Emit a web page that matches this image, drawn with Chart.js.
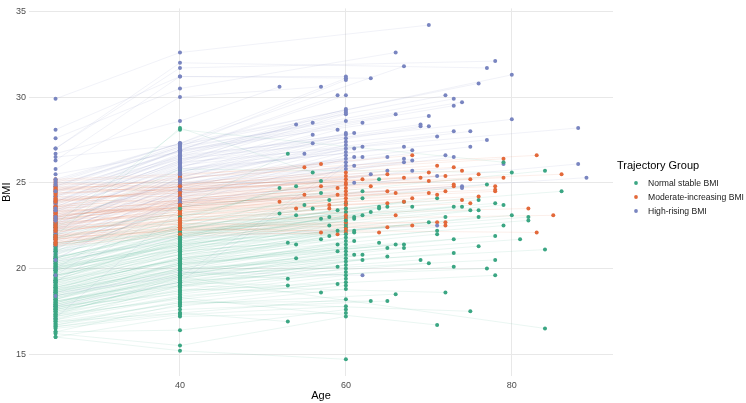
<!DOCTYPE html>
<html><head><meta charset="utf-8">
<script src="https://cdn.jsdelivr.net/npm/chart.js@4.4.1/dist/chart.umd.min.js"></script>
<style>html,body{margin:0;padding:0;background:#fff}#wrap{width:746px;height:403px;position:relative}</style>
</head><body><div id="wrap"><canvas id="c" width="746" height="403"></canvas></div>
<script>
const groupNames = ['Normal stable BMI', 'Moderate-increasing BMI', 'High-rising BMI'];
const legendTitle = 'Trajectory Group';
const xTicks = [40, 60, 80];
const yTicks = [15, 20, 25, 30, 35];
const xTitle = 'Age';
const yTitle = 'BMI';

// Normal stable BMI: BMI at 25, at 40, and age / BMI of last measure
const normalAgeLast = [53,53,53,53,53,52,52,54,54,54,
 54,55,56,56,57,57,57,57,57,58,
 58,58,58,59,59,59,59,59,59,61,
 61,61,61,61,61,62,62,62,62,62,
 63,63,64,64,64,64,65,65,65,65,
 66,66,67,67,67,68,69,70,70,71,
 71,71,71,72,72,73,73,73,73,74,
 75,75,76,76,76,76,77,77,78,78,
 78,78,79,79,79,80,80,81,82,82,
 84,84,84,86,60,60,60,60,60,60,
 60,60,60,60,60,60,60,60,60,60,
 60,60,60,60,60,60,60,60,60,60,
 60,60,60,60,60];
const normalBmiLast = [26.7,19.4,19.0,16.9,21.5,24.7,23.2,24.8,23.1,21.4,
 20.6,23.7,25.6,23.5,25.1,24.4,22.9,21.7,18.6,24.0,
 23.0,22.5,21.9,23.4,22.2,21.4,21.0,20.1,19.1,23.0,
 22.9,22.2,22.1,21.6,20.8,24.5,24.1,23.1,20.8,20.5,
 23.3,18.1,25.2,23.6,23.5,21.5,23.6,21.2,20.7,18.1,
 21.4,18.5,23.9,21.4,21.2,23.6,20.5,22.7,20.3,24.1,
 22.2,22.0,16.7,23.0,18.6,23.6,21.7,20.9,20.1,23.6,
 23.4,17.5,24.0,23.4,23.0,21.3,24.9,20.0,23.8,21.9,
 20.5,19.6,26.2,23.7,22.5,25.6,23.1,21.7,23.0,22.8,
 25.7,21.1,16.5,24.5,23.8,23.5,23.3,23.0,22.8,22.6,
 22.4,22.2,22.0,21.8,21.6,21.4,21.2,21.0,20.8,20.6,
 20.4,20.2,20.0,19.8,19.6,19.4,19.2,19.0,18.8,18.2,
 17.8,17.6,17.4,17.2,14.7];
const normalBmi40 = [23.5,19.8,19.2,17.4,21.0,22.6,21.8,22.9,21.5,20.6,
 19.9,22.2,28.2,21.7,23.0,22.4,21.2,20.3,18.8,22.5,
 21.4,20.9,20.5,21.9,20.8,20.1,19.6,19.0,18.4,21.6,
 21.3,20.7,20.4,20.0,19.5,22.7,22.3,21.1,19.4,19.1,
 21.5,18.0,23.2,21.9,21.8,20.2,22.0,19.8,19.3,17.6,
 20.3,17.9,22.1,20.4,19.7,21.7,19.5,21.2,19.2,22.3,
 20.8,20.6,18.3,21.4,19.0,22.0,20.2,19.7,19.0,22.2,
 21.9,18.1,22.5,21.6,21.1,19.9,23.1,19.3,22.4,20.5,
 19.6,18.7,28.1,22.1,21.0,25.8,21.4,20.3,21.5,21.3,
 23.6,20.0,19.5,22.8,22.3,22.0,21.8,21.3,21.1,21.0,
 20.8,20.6,20.5,20.2,20.0,19.9,19.7,19.6,19.4,19.2,
 19.0,18.9,18.7,18.6,18.5,18.3,18.2,18.0,17.8,17.4,
 17.3,16.4,17.2,15.5,15.2];
const normalBmi25 = [21.0,18.2,17.6,16.9,19.3,20.4,19.9,20.8,19.5,18.9,
 18.0,20.1,21.9,19.6,21.2,20.6,19.1,18.4,17.3,20.9,
 19.7,18.8,19.0,20.2,19.2,18.6,17.9,17.5,17.1,20.0,
 19.4,18.7,19.1,18.3,17.8,21.4,20.5,19.8,18.1,17.7,
 20.7,16.8,22.2,20.3,19.3,18.5,20.0,18.7,17.4,16.6,
 18.9,16.3,21.0,18.2,17.9,20.4,18.0,19.6,17.6,21.1,
 19.3,18.6,17.2,19.9,17.0,20.7,18.8,18.3,17.7,20.2,
 20.5,16.7,21.3,19.5,20.1,18.4,22.0,18.1,20.6,19.2,
 17.8,17.4,22.6,21.5,19.6,22.4,20.1,18.7,19.9,20.2,
 21.7,18.5,17.3,21.8,20.6,20.3,19.8,20.0,19.4,19.0,
 19.6,18.9,19.3,18.6,18.2,18.8,18.0,18.4,17.7,17.9,
 18.1,17.5,17.6,17.2,17.8,17.0,17.3,16.9,16.7,16.6,
 16.5,16.3,16.0,16.2,16.0];

// Moderate-increasing BMI
const moderateAgeLast = [55,55,57,57,57,52,54,58,58,59,
 59,59,62,63,64,65,65,65,65,66,
 66,67,67,68,68,68,69,70,70,70,
 71,71,71,72,72,72,72,73,73,73,
 74,74,75,75,76,76,78,78,78,79,
 79,82,83,83,85,86,60,60,60,60,
 60,60,60,60,60,60,60,60,60,60,
 60,60,60,60,60];
const moderateBmiLast = [25.9,24.3,26.1,24.8,22.1,23.9,23.5,23.7,23.5,24.7,
 24.3,22.0,25.2,24.8,22.1,25.5,24.5,23.8,22.4,24.4,
 23.1,25.3,23.9,24.1,22.5,26.6,25.3,25.6,25.1,24.4,
 26.0,24.3,22.7,25.4,24.5,22.7,22.5,25.9,24.9,24.8,
 25.7,24.0,25.2,23.8,25.5,24.2,24.8,24.6,24.5,26.4,
 25.3,23.5,26.6,22.1,23.1,25.5,25.6,25.4,25.2,25.0,
 24.9,24.7,24.5,24.3,24.1,23.9,23.7,23.5,23.3,23.1,
 22.9,22.7,22.5,22.3,22.1];
const moderateBmi40 = [24.8,23.6,25.2,24.0,22.3,23.2,22.9,23.1,22.7,23.9,
 23.5,22.1,24.4,23.8,22.4,24.7,23.7,23.3,22.5,23.6,
 22.8,24.5,23.2,23.4,22.6,25.4,24.6,24.9,24.3,23.8,
 25.0,23.5,22.6,24.6,23.9,22.4,22.2,24.9,24.1,23.7,
 24.7,23.4,24.2,23.1,24.8,23.5,24.0,23.8,23.6,25.3,
 24.4,23.0,25.5,22.3,22.8,24.6,24.8,24.6,24.5,24.2,
 24.0,23.9,23.8,23.6,23.4,23.3,23.1,22.9,22.8,22.6,
 22.4,22.3,22.2,22.0,21.9];
const moderateBmi25 = [23.6,22.4,24.6,23.0,21.6,22.1,21.8,22.7,21.9,23.3,
 22.5,21.4,24.1,23.5,21.5,24.8,23.1,22.6,21.7,22.9,
 22.2,24.0,22.3,23.2,21.8,25.1,23.9,24.3,23.7,22.8,
 24.9,23.4,22.0,24.4,23.0,21.9,21.5,24.7,23.6,22.9,
 25.0,22.6,24.2,22.1,23.8,23.3,23.5,22.8,23.1,24.5,
 24.0,22.4,25.2,21.7,22.3,24.6,24.4,23.9,24.7,23.6,
 23.2,24.0,23.0,22.7,23.4,22.5,22.9,22.2,21.9,22.4,
 21.7,21.5,21.8,21.4,21.3];

// High-rising BMI
const highAgeLast = [52,54,55,56,56,56,57,59,59,61,
 61,61,61,61,62,62,62,62,63,63,
 65,65,66,66,67,67,67,67,68,68,
 68,69,69,70,70,70,71,71,71,72,
 72,73,73,73,73,74,74,74,75,75,
 76,77,77,78,79,80,80,88,88,89,
 60,60,60,60,60,60,60,60,60,60,
 60,60,60,60,60,60,60,60,60,60,
 60];
const highBmiLast = [30.6,28.4,26.7,28.5,27.8,27.3,30.6,30.1,28.1,27.9,
 27.0,26.5,26.0,25.0,28.5,27.1,26.5,19.6,31.1,25.5,
 26.5,25.7,32.6,29.0,31.8,27.1,26.4,26.2,26.9,26.3,
 25.7,28.4,28.3,34.2,28.9,28.3,27.7,25.4,22.5,30.1,
 26.6,29.9,29.5,28.0,26.5,29.7,24.7,24.8,28.0,27.1,
 30.8,31.7,27.5,32.1,26.1,31.3,28.7,28.2,26.1,25.3,
 31.2,31.1,31.0,30.1,29.3,29.2,29.1,29.0,28.6,27.9,
 27.8,27.6,27.4,27.2,27.0,26.8,26.6,26.4,26.2,26.0,
 25.8];
const highBmi40 = [28.6,26.2,25.1,26.8,25.9,25.3,30.0,26.9,25.6,26.4,
 25.4,24.9,24.4,23.9,26.7,25.5,24.8,19.8,31.2,24.2,
 25.0,24.5,30.5,26.9,27.3,25.7,24.7,24.3,25.2,24.6,
 24.1,26.5,26.3,32.6,26.9,26.1,25.8,23.8,21.8,27.2,
 24.9,27.0,26.8,26.4,24.5,27.1,23.6,23.9,26.0,25.2,
 27.3,32.0,25.8,31.7,24.4,27.2,26.6,26.2,24.0,23.7,
 31.2,27.3,27.1,26.9,26.6,26.5,26.3,26.1,25.9,25.6,
 25.5,25.3,25.1,24.8,24.6,24.3,24.1,23.8,19.5,19.2,
 23.5];
const highBmi25 = [26.7,23.9,22.8,24.6,23.5,22.3,25.8,24.1,23.2,24.0,
 22.6,22.1,21.6,21.3,23.9,23.0,22.4,18.4,28.1,21.8,
 22.9,22.0,27.6,24.4,25.1,23.3,22.5,21.5,22.8,22.2,
 21.2,24.5,23.6,29.9,24.2,23.8,23.1,21.4,20.4,26.5,
 22.7,24.9,25.5,24.3,21.9,24.7,20.9,20.6,23.4,22.6,
 25.2,27.0,23.0,27.0,22.3,24.8,23.7,23.4,21.0,20.8,
 26.3,25.0,24.8,24.5,24.2,23.9,23.6,23.3,22.9,22.5,
 22.2,21.9,21.7,21.1,20.5,20.0,19.6,19.2,18.6,17.8,
 17.1];

const groupColors = ['#3ba683', '#e3693a', '#7985c0'];

function rgba(hex, a) {
  const n = parseInt(hex.slice(1), 16);
  return 'rgba(' + (n >> 16) + ',' + ((n >> 8) & 255) + ',' + (n & 255) + ',' + a + ')';
}

// one line dataset and one point dataset per person; point datasets of the
// three groups are interleaved in drawing order, as in a plot drawn in data order
function buildGroup(color, b25, b40, ages, last, shift) {
  const pts = [];
  const lines = [];
  const n = ages.length;
  for (let i = 0; i < n; i++) {
    const p = [{x: 25, y: b25[i]}, {x: 40, y: b40[i]}, {x: ages[i], y: last[i]}];
    lines.push({data: p, showLine: true, borderColor: rgba(color, 0.14),
      borderWidth: 0.75, pointRadius: 0, order: 10});
    pts.push({data: p, backgroundColor: color, borderWidth: 0, pointRadius: 2.0,
      showLine: false, order: 1 + ((i * 37 + shift) % n) / n});
  }
  return {points: pts, lines: lines};
}

const gN = buildGroup(groupColors[0], normalBmi25, normalBmi40, normalAgeLast, normalBmiLast, 5);
const gM = buildGroup(groupColors[1], moderateBmi25, moderateBmi40, moderateAgeLast, moderateBmiLast, 11);
const gH = buildGroup(groupColors[2], highBmi25, highBmi40, highAgeLast, highBmiLast, 23);

const datasets = [].concat(gM.points, gN.points, gH.points, gN.lines, gM.lines, gH.lines);

const FONT = '"Liberation Sans", Arial, Helvetica, sans-serif';
Chart.defaults.font.family = FONT;

const legendPlugin = {
  id: 'customLegend',
  afterDraw(chart) {
    const ctx = chart.ctx;
    ctx.save();
    ctx.textBaseline = 'middle';
    ctx.textAlign = 'left';
    ctx.fillStyle = '#000';
    ctx.font = '11px ' + FONT;
    ctx.fillText(legendTitle, 617, 166);
    groupNames.forEach((n, i) => {
      const y = 183 + i * 14;
      ctx.fillStyle = groupColors[i];
      ctx.beginPath();
      ctx.arc(636, y, 1.9, 0, Math.PI * 2);
      ctx.fill();
      ctx.fillStyle = '#1a1a1a';
      ctx.font = '8.6px ' + FONT;
      ctx.fillText(n, 648, y + 0.5);
    });
    ctx.restore();
  }
};

new Chart(document.getElementById('c'), {
  type: 'scatter',
  data: {datasets: datasets},
  options: {
    responsive: false,
    animation: false,
    events: [],
    layout: {padding: {top: 3, right: 133, left: 0, bottom: 0}},
    plugins: {legend: {display: false}, tooltip: {enabled: false}},
    scales: {
      x: {
        type: 'linear', min: 21.8, max: 92.2,
        afterBuildTicks: (s) => { s.ticks = xTicks.map(v => ({value: v})); },
        afterFit: (s) => { s.height = 27; },
        grid: {color: '#e8e8e8', lineWidth: 1, drawTicks: false},
        border: {display: false},
        ticks: {color: '#4d4d4d', font: {size: 9}, padding: 4, maxRotation: 0},
        title: {display: true, text: xTitle, color: '#000', font: {size: 11}, padding: 0}
      },
      y: {
        type: 'linear', min: 13.725, max: 35.175,
        afterBuildTicks: (s) => { s.ticks = yTicks.map(v => ({value: v})); },
        afterFit: (s) => { s.width = 29; },
        grid: {color: '#e8e8e8', lineWidth: 1, drawTicks: false},
        border: {display: false},
        ticks: {color: '#4d4d4d', font: {size: 9}, padding: 3},
        title: {display: true, text: yTitle, color: '#000', font: {size: 11}, padding: 0}
      }
    }
  },
  plugins: [legendPlugin]
});
</script>
</body></html>
